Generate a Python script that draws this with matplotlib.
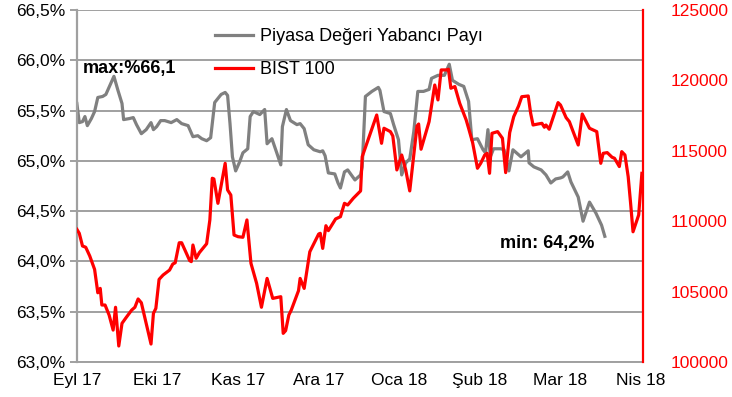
import numpy as np
import matplotlib
matplotlib.use("Agg")
import matplotlib.pyplot as plt
from matplotlib.ticker import FuncFormatter

plt.rcParams['font.family'] = ['Liberation Sans', 'DejaVu Sans']

# month labels (x position = months since start of Eyl 17)
months = ["Eyl 17", "Eki 17", "Kas 17", "Ara 17", "Oca 18", "Şub 18", "Mar 18", "Nis 18"]

# Piyasa Degeri Yabanci Payi (%)
pay_t = [0.00, 0.03, 0.07, 0.10, 0.13, 0.18, 0.22, 0.26, 0.32, 0.36, 0.46, 0.51, 0.56, 0.58,
         0.65, 0.70, 0.74, 0.80, 0.86, 0.92, 0.95, 0.99, 1.04, 1.09, 1.17, 1.24, 1.30, 1.38,
         1.44, 1.50, 1.55, 1.61, 1.66, 1.67, 1.71, 1.79, 1.84, 1.87, 1.90, 1.93, 1.97, 2.02,
         2.06, 2.12, 2.15, 2.19, 2.27, 2.33, 2.36, 2.42, 2.48, 2.53, 2.55, 2.60, 2.65, 2.73,
         2.77, 2.82, 2.87, 2.94, 3.02, 3.05, 3.08, 3.12, 3.20, 3.24, 3.27, 3.32, 3.36, 3.45,
         3.52, 3.54, 3.58, 3.66, 3.74, 3.76, 3.81, 3.89, 3.93, 3.99, 4.03, 4.08, 4.13, 4.18,
         4.23, 4.30, 4.37, 4.40, 4.48, 4.56, 4.62, 4.66, 4.74, 4.80, 4.86, 4.90, 4.97, 5.04,
         5.07, 5.10, 5.13, 5.17, 5.26, 5.30, 5.36, 5.41, 5.51, 5.60, 5.61, 5.67, 5.76, 5.82,
         5.88, 5.94, 6.00, 6.03, 6.09, 6.13, 6.22, 6.28, 6.36, 6.44, 6.51, 6.55]
pay = [65.57, 65.38, 65.39, 65.44, 65.35, 65.42, 65.49, 65.63, 65.64, 65.66, 65.84, 65.70, 65.57, 65.41,
       65.42, 65.43, 65.36, 65.27, 65.31, 65.38, 65.31, 65.34, 65.40, 65.40, 65.38, 65.41, 65.37, 65.35,
       65.24, 65.25, 65.22, 65.20, 65.23, 65.30, 65.58, 65.66, 65.68, 65.65, 65.37, 65.04, 64.90, 64.99,
       65.08, 65.12, 65.44, 65.49, 65.46, 65.51, 65.17, 65.22, 65.08, 64.96, 65.34, 65.51, 65.40, 65.36,
       65.37, 65.32, 65.16, 65.11, 65.09, 65.10, 65.05, 64.88, 64.87, 64.78, 64.73, 64.89, 64.91, 64.81,
       64.86, 64.94, 65.64, 65.69, 65.73, 65.70, 65.49, 65.47, 65.36, 65.21, 64.86, 64.98, 65.02, 65.29,
       65.69, 65.69, 65.71, 65.82, 65.85, 65.85, 65.96, 65.80, 65.76, 65.74, 65.59, 65.21, 65.22, 65.11,
       65.08, 65.31, 65.04, 65.12, 65.12, 65.11, 64.90, 65.11, 65.04, 65.10, 64.98, 64.94, 64.91, 64.86,
       64.78, 64.82, 64.83, 64.84, 64.89, 64.79, 64.64, 64.40, 64.59, 64.48, 64.36, 64.25]

# BIST 100
bist_t = [0.00, 0.03, 0.07, 0.11, 0.16, 0.22, 0.26, 0.29, 0.31, 0.35, 0.40, 0.45, 0.48, 0.52,
          0.56, 0.61, 0.68, 0.72, 0.76, 0.80, 0.86, 0.92, 0.95, 0.98, 1.02, 1.07, 1.15, 1.19,
          1.22, 1.27, 1.30, 1.40, 1.42, 1.44, 1.48, 1.52, 1.61, 1.65, 1.68, 1.70, 1.75, 1.84,
          1.87, 1.91, 1.95, 2.00, 2.06, 2.11, 2.16, 2.23, 2.29, 2.36, 2.43, 2.53, 2.56, 2.59,
          2.63, 2.66, 2.75, 2.77, 2.82, 2.89, 3.00, 3.02, 3.05, 3.09, 3.12, 3.21, 3.27, 3.32,
          3.36, 3.43, 3.52, 3.54, 3.62, 3.72, 3.78, 3.81, 3.89, 3.92, 3.97, 4.03, 4.08, 4.13,
          4.22, 4.24, 4.27, 4.37, 4.44, 4.48, 4.52, 4.59, 4.61, 4.64, 4.69, 4.75, 4.83, 4.86,
          4.91, 4.97, 5.01, 5.06, 5.09, 5.12, 5.15, 5.22, 5.28, 5.32, 5.37, 5.42, 5.48, 5.52,
          5.60, 5.63, 5.66, 5.72, 5.77, 5.80, 5.82, 5.86, 5.97, 6.00, 6.07, 6.11, 6.22, 6.27,
          6.36, 6.45, 6.50, 6.53, 6.58, 6.64, 6.67, 6.73, 6.76, 6.80, 6.84, 6.87, 6.90, 6.97, 7.01]
bist = [109425, 109140, 108240, 108150, 107530, 106580, 104920, 105230, 104050, 104050, 103340, 102270, 103890, 101140,
        102750, 103150, 103690, 103890, 104480, 104210, 102750, 101280, 103460, 103810, 105870, 106180, 106530, 106960,
        107050, 108470, 108470, 107200, 107130, 108310, 107370, 107770, 108400, 110090, 113050, 113000, 111270, 114110,
        112220, 111860, 109020, 108900, 108860, 110090, 107010, 105590, 103890, 105940, 104520, 104640, 102040, 102230,
        103340, 103690, 105070, 105940, 105230, 107830, 109090, 109140, 108070, 109680, 109330, 110160, 110320, 111270,
        111150, 111630, 112150, 114580, 115890, 117540, 115530, 116600, 116360, 116050, 113640, 114700, 113640, 112150,
        116760, 116900, 115110, 117070, 119670, 118610, 120740, 120740, 120790, 119440, 119560, 118370, 117190, 116600,
        115580, 113760, 114110, 114700, 114820, 113400, 116240, 116360, 115890, 113450, 116290, 117420, 118180, 118840,
        118890, 117660, 116830, 116900, 116950, 116670, 116830, 116530, 118420, 118250, 117350, 117070, 115410, 117610,
        116600, 116360, 114110, 114820, 114870, 114540, 114470, 113880, 114940, 114700, 113160, 111270, 109250, 110440, 113400]

left_ticks = [63.0, 63.5, 64.0, 64.5, 65.0, 65.5, 66.0, 66.5]
right_ticks = [100000, 105000, 110000, 115000, 120000, 125000]

fig = plt.figure(figsize=(7.32, 3.97), dpi=100)
ax = fig.add_axes([0.105, 0.088, 0.773, 0.887])
ax2 = ax.twinx()

grid_c = '#a0a0a0'
ax.plot(pay_t, pay, color='#808080', lw=2.3, label='Piyasa Değeri Yabancı Payı')
ax2.plot(bist_t, bist, color='#ff0000', lw=2.3, label='BIST 100')

ax.set_xlim(0, 7.02)
ax.set_ylim(63.0, 66.5)
ax2.set_ylim(100000, 125000)

ax.set_yticks(left_ticks)
ax.yaxis.set_major_formatter(FuncFormatter(lambda v, p: f"{v:.1f}%".replace('.', ',')))
ax.grid(axis='y', color=grid_c, lw=1.4)
ax.set_axisbelow(True)
ax.set_xticks(range(len(months)))
ax.set_xticklabels(months)
ax.tick_params(axis='x', length=0, labelsize=12.5, pad=8)
ax.tick_params(axis='y', length=5, color=grid_c, width=1.4, labelsize=12.5, pad=3)

ax2.set_yticks(right_ticks)
ax2.tick_params(axis='y', length=0, labelsize=12.5, labelcolor='#ff0000', pad=20)

for a in (ax, ax2):
    a.spines['top'].set_visible(False)
ax.spines['left'].set_color(grid_c)
ax.spines['left'].set_linewidth(1.6)
ax.spines['bottom'].set_color(grid_c)
ax.spines['bottom'].set_linewidth(1.4)
ax.spines['right'].set_visible(False)
ax2.spines['left'].set_visible(False)
ax2.spines['bottom'].set_visible(False)
ax2.spines['right'].set_color('#ff0000')
ax2.spines['right'].set_linewidth(1.6)

ax.text(0.07, 65.87, 'max:%66,1', fontsize=13, fontweight='bold')
ax.text(5.25, 64.13, 'min: 64,2%', fontsize=13, fontweight='bold')

h1, l1 = ax.get_legend_handles_labels()
h2, l2 = ax2.get_legend_handles_labels()
ax2.legend(h1 + h2, l1 + l2, loc='upper left', bbox_to_anchor=(215 / 732, 1 - 28 / 397),
           bbox_transform=fig.transFigure, frameon=False, borderpad=0, borderaxespad=0,
           fontsize=13, handlelength=2.1, handletextpad=0.4, labelspacing=0.9)

fig.savefig('out.png', dpi=100)
